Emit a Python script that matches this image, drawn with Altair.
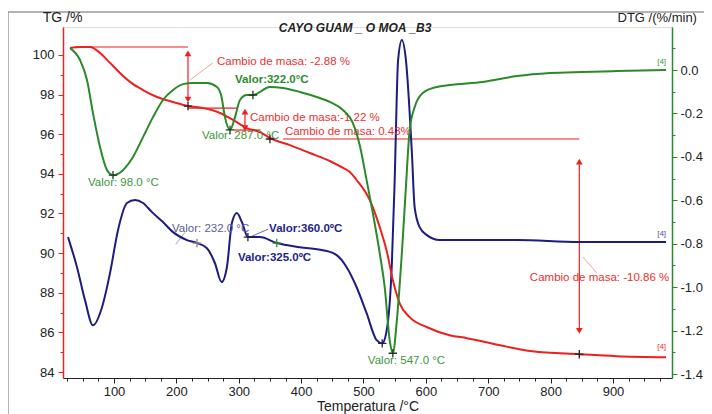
import altair as alt
import pandas as pd

# ---------------- data ----------------
# TG curve (red), left axis, %
tg_temp = [29.5, 45.5, 61.5, 77.6, 93.6, 109.6, 125.6, 146.5, 168.9, 194.6,
           218.6, 242.6, 270, 290.7, 313, 334, 350, 382, 414, 446,
           462, 478, 489, 510, 526, 538, 547, 558, 574, 602,
           638, 666, 719, 771, 846, 906, 985]
tg_val = [100.35, 100.40, 100.40, 100.10, 99.60, 99.09, 98.64, 98.23, 97.88, 97.63,
          97.42, 97.32, 97.07, 96.72, 96.31, 96.11, 95.81, 95.45, 95.05, 94.65,
          94.39, 94.09, 93.69, 92.68, 91.31, 90.00, 88.64, 87.47, 86.77, 86.26,
          85.86, 85.71, 85.35, 85.05, 84.90, 84.80, 84.75]

# DTG curve (green), right axis, %/min
dtg_temp = [29.5, 45.5, 56.7, 66.3, 77.6, 88.8, 98.4, 114.4, 130.4, 146.5,
            162.5, 178.5, 194.6, 210.6, 226.6, 249, 265, 272.4, 277.9, 286,
            294, 302, 313, 322.8, 350, 371, 398, 425, 446, 467,
            483, 494, 505, 515, 526, 534, 542, 547, 553.5, 561.5,
            568, 574, 582, 595, 617.6, 638, 691, 746, 799, 851,
            906, 985]
dtg_val = [0.101, 0.046, -0.046, -0.198, -0.355, -0.461, -0.484, -0.461, -0.401, -0.309,
           -0.217, -0.138, -0.092, -0.065, -0.060, -0.060, -0.078, -0.124, -0.217, -0.276,
           -0.217, -0.138, -0.115, -0.115, -0.078, -0.083, -0.101, -0.124, -0.147, -0.184,
           -0.244, -0.346, -0.507, -0.659, -0.843, -1.000, -1.244, -1.304, -1.152, -0.843,
           -0.539, -0.276, -0.171, -0.106, -0.078, -0.069, -0.055, -0.028, -0.014, -0.009,
           -0.005, 0.000]

# DSC-like curve (navy), drawn against the left-axis scale (no own axis shown)
dsc_temp = [26.3, 40.7, 53.5, 66.3, 80.8, 93.6, 106.4, 120.8, 133.7, 146.5,
            160.9, 178.5, 194.6, 217, 233, 249, 261.9, 272.4, 281, 289,
            297, 305, 314.7, 334, 361, 398, 435, 457, 473, 489,
            505, 521, 530, 538, 545.5, 550, 555.5, 561.5, 568, 577.6,
            582, 590, 601.6, 622, 666, 746, 846, 985]
dsc_val = [90.81, 89.29, 87.63, 86.36, 87.27, 88.99, 91.16, 92.53, 92.68, 92.53,
           92.07, 91.57, 91.06, 90.66, 90.51, 90.25, 89.49, 88.54, 89.29, 91.52,
           92.02, 91.57, 90.81, 90.81, 90.51, 90.30, 90.15, 89.90, 89.29, 88.28,
           86.97, 85.61, 85.45, 86.26, 89.49, 93.69, 99.75, 100.76, 99.75, 95.05,
           92.32, 91.31, 90.91, 90.66, 90.66, 90.66, 90.56, 90.56]

# mass-change construction lines (red), in (temperature, TG) units
seg_t1 = [37.5, 218.6, 218.6, 310, 292, 371, 846]
seg_t2 = [218.6, 218.6, 297, 310, 335, 846, 846]
seg_v1 = [100.40, 100.05, 97.32, 97.18, 96.21, 95.76, 94.60]
seg_v2 = [100.40, 97.78, 97.32, 96.28, 96.21, 95.76, 86.10]

arrow_up_t = [218.6, 310, 846]
arrow_up_v = [100.08, 97.14, 94.62]
arrow_dn_t = [218.6, 310, 846]
arrow_dn_v = [97.75, 96.30, 86.08]

# leader lines
lead_t1 = [222, 851.9, 318, 199]
lead_t2 = [258.7, 874.3, 347, 214]
lead_v1 = [98.74, 89.80, 90.81, 90.45]
lead_v2 = [99.60, 88.99, 91.21, 91.05]
lead_col = ["#f39a9a", "#f39a9a", "#5555a0", "#9a9ab8"]

# annotation texts
lab_text = ["Cambio de masa: -2.88 %", "Cambio de masa:-1.22 %", "Cambio de masa: 0.43%",
            "Cambio de masa: -10.86 %", "Valor: 98.0 °C", "Valor: 287.0 °C",
            "Valor: 547.0 °C", "Valor: 232.0 °C"]
lab_t = [265.2, 318, 374, 766.7, 58.3, 241, 507, 193]
lab_v = [99.65, 96.82, 96.11, 88.74, 93.54, 95.91, 84.55, 91.21]
lab_col = ["#ec3030", "#ec3030", "#ec3030", "#ec3030", "#3c963c", "#3c963c",
           "#3c963c", "#5b5b9a"]

bold_text = ["Valor:322.0°C", "Valor:360.0ºC", "Valor:325.0ºC"]
bold_t = [294, 348.7, 298.7]
bold_v = [98.74, 91.21, 89.75]
bold_col = ["#2f8a2f", "#24248c", "#24248c"]

tag_t = [978, 978, 978]
tag_v = [99.65, 90.96, 85.25]
tag_col = ["#3c963c", "#5050a0", "#ec3030"]

# "+" markers
mk_tg_t = [218.6, 350, 846, 233, 314.7, 361, 530]
mk_tg_v = [97.42, 95.76, 84.90, 90.51, 90.81, 90.51, 85.45]
mk_tg_c = ["#222222", "#222222", "#222222", "#888888", "#222244", "#2f8a2f", "#222244"]
mk_dtg_t = [98.4, 286, 322.8, 547]
mk_dtg_v = [-0.484, -0.276, -0.115, -1.304]

# header texts (chart title and left-axis name), in (temperature, TG) units
head_text = ["CAYO GUAM _ O MOA _B3", "TG /%"]
head_t = [486.5, 17.5]
head_v = [101.36, 101.86]

X_DOM = [18.24, 994.6]
TG_DOM = [83.70, 101.41]
DTG_DOM = [-1.418, 0.198]

RED = "#ee1f1f"
GREEN = "#2a8a2a"
NAVY = "#1c1c82"
FONT = "Liberation Sans"

# ---------------- scales / axes ----------------
x_axis = alt.Axis(
    values=list(range(25, 976, 25)),
    labelExpr="datum.value % 100 === 0 ? datum.label : ''",
    format="d",
    tickSize={"condition": {"test": "datum.value % 100 === 0", "value": 5}, "value": 3},
    domainColor="#222222", tickColor="#222222", labelColor="#222222",
    labelFontSize=13, labelPadding=2, grid=False,
    title="Temperatura /°C", titleFontSize=14, titleFontWeight="normal",
    titleColor="#222222", titlePadding=1,
)
xs = alt.Scale(domain=X_DOM, nice=False, zero=False)
X = alt.X("t:Q", scale=xs, axis=x_axis)

tg_axis = alt.Axis(
    values=list(range(84, 101)),
    labelExpr="datum.value % 2 === 0 ? datum.label : ''",
    format="d",
    tickSize={"condition": {"test": "datum.value % 2 === 0", "value": 5}, "value": 3},
    domainColor="#f02020", tickColor="#f02020", labelColor="#222222",
    labelFontSize=13, labelPadding=4, grid=False, domainWidth=1.5,
    title=None,
)
tgs = alt.Scale(domain=TG_DOM, nice=False, zero=False)
Y_TG = alt.Y("v:Q", scale=tgs, axis=tg_axis)

dtg_vals = [round(-1.4 + 0.1 * i, 1) for i in range(16)]
dtg_axis = alt.Axis(
    orient="right",
    values=dtg_vals,
    labelExpr="abs(round(datum.value*10)) % 2 === 0 ? (datum.value < -0.001 ? '-' : '') + format(abs(datum.value), '.1f') : ''",
    tickSize={"condition": {"test": "abs(round(datum.value*10)) % 2 === 0", "value": 5}, "value": 3},
    domainColor=GREEN, tickColor=GREEN, labelColor="#222222",
    labelFontSize=13, labelPadding=3, grid=False, domainWidth=1.5,
    title="DTG /(%/min)", titleAngle=0, titleX=-55, titleY=-10, titleAlign="left",
    titleBaseline="middle", titleFontSize=13, titleFontWeight="normal", titleColor="#222222",
)
dtgs = alt.Scale(domain=DTG_DOM, nice=False, zero=False)
Y_DTG = alt.Y("v:Q", scale=dtgs, axis=dtg_axis)

# ---------------- tables ----------------
tg_df = pd.DataFrame({"t": tg_temp, "v": tg_val})
dtg_df = pd.DataFrame({"t": dtg_temp, "v": dtg_val})
dsc_df = pd.DataFrame({"t": dsc_temp, "v": dsc_val})
seg_df = pd.DataFrame({"t": seg_t1, "t2": seg_t2, "v": seg_v1, "v2": seg_v2})
up_df = pd.DataFrame({"t": arrow_up_t, "v": arrow_up_v})
dn_df = pd.DataFrame({"t": arrow_dn_t, "v": arrow_dn_v})
lead_df = pd.DataFrame({"t": lead_t1, "t2": lead_t2, "v": lead_v1, "v2": lead_v2, "c": lead_col})
lab_df = pd.DataFrame({"t": lab_t, "v": lab_v, "text": lab_text, "c": lab_col})
bold_df = pd.DataFrame({"t": bold_t, "v": bold_v, "text": bold_text, "c": bold_col})
tag_df = pd.DataFrame({"t": tag_t, "v": tag_v, "text": ["[4]"] * 3, "c": tag_col})
title_df = pd.DataFrame({"t": head_t[:1], "v": head_v[:1], "text": head_text[:1]})
tgname_df = pd.DataFrame({"t": head_t[1:], "v": head_v[1:], "text": head_text[1:]})
mk_tg_df = pd.DataFrame({"t": mk_tg_t, "v": mk_tg_v, "c": mk_tg_c})
mk_dtg_df = pd.DataFrame({"t": mk_dtg_t, "v": mk_dtg_v})

CROSS = "M-1,0H1M0,-1V1"

# ---------------- layers on TG scale ----------------
frame_v = alt.Chart(pd.DataFrame({"d": [0]})).mark_rule(color="#9a9a9a", strokeWidth=1.5).encode(
    x=alt.value(-55), y=alt.value(-15), y2=alt.value(390))
frame_h = alt.Chart(pd.DataFrame({"d": [0]})).mark_rule(color="#9a9a9a", strokeWidth=1.5).encode(
    x=alt.value(-55), x2=alt.value(660), y=alt.value(-15))

segs = alt.Chart(seg_df).mark_rule(color=RED, strokeWidth=1.2).encode(
    x=X, x2="t2:Q", y=Y_TG, y2="v2:Q")
leads = alt.Chart(lead_df).mark_rule(strokeWidth=0.9).encode(
    x=X, x2="t2:Q", y=Y_TG, y2="v2:Q", color=alt.Color("c:N", scale=None))
ups = alt.Chart(up_df).mark_point(shape="triangle-up", filled=True, color=RED, size=45, opacity=1).encode(x=X, y=Y_TG)
dns = alt.Chart(dn_df).mark_point(shape="triangle-down", filled=True, color=RED, size=45, opacity=1).encode(x=X, y=Y_TG)

dsc_line = alt.Chart(dsc_df).mark_line(color=NAVY, strokeWidth=2, interpolate="monotone").encode(x=X, y=Y_TG)
tg_line = alt.Chart(tg_df).mark_line(color=RED, strokeWidth=2, interpolate="monotone").encode(x=X, y=Y_TG)

labs = alt.Chart(lab_df).mark_text(align="left", baseline="middle", font=FONT, fontSize=11.5).encode(
    x=X, y=Y_TG, text="text:N", color=alt.Color("c:N", scale=None))
bolds = alt.Chart(bold_df).mark_text(align="left", baseline="middle", font=FONT, fontSize=11.5, fontWeight="bold").encode(
    x=X, y=Y_TG, text="text:N", color=alt.Color("c:N", scale=None))
tags = alt.Chart(tag_df).mark_text(align="center", baseline="middle", font=FONT, fontSize=8).encode(
    x=X, y=Y_TG, text="text:N", color=alt.Color("c:N", scale=None))
ttl = alt.Chart(title_df).mark_text(align="center", baseline="middle", font=FONT, fontSize=12,
                                    fontWeight="bold", fontStyle="italic", color="#222222").encode(
    x=X, y=Y_TG, text="text:N")
tgname = alt.Chart(tgname_df).mark_text(align="center", baseline="middle", font=FONT, fontSize=14,
                                        color="#222222").encode(x=X, y=Y_TG, text="text:N")
mk_tg = alt.Chart(mk_tg_df).mark_point(shape=CROSS, size=70, strokeWidth=1.3, filled=False, opacity=1).encode(
    x=X, y=Y_TG, color=alt.Color("c:N", scale=None))

tg_group = alt.layer(frame_v, frame_h, segs, leads, ups, dns, dsc_line, tg_line,
                     labs, bolds, tags, ttl, tgname, mk_tg)

# ---------------- layers on DTG scale ----------------
dtg_line = alt.Chart(dtg_df).mark_line(color=GREEN, strokeWidth=2, interpolate="monotone").encode(x=X, y=Y_DTG)
mk_dtg = alt.Chart(mk_dtg_df).mark_point(shape=CROSS, size=70, strokeWidth=1.3, filled=False,
                                         color="#1f3a1f", opacity=1).encode(x=X, y=Y_DTG)
dtg_group = alt.layer(dtg_line, mk_dtg)

chart = alt.layer(tg_group, dtg_group).resolve_scale(y="independent").properties(
    width=609, height=351,
    autosize=alt.AutoSizeParams(type="none"),
    padding={"left": 55, "top": 19, "right": 32, "bottom": 36},
).configure_view(stroke=None).configure(font=FONT, background="white")

chart.save("out.html", embed_options={"renderer": "svg", "actions": False})
